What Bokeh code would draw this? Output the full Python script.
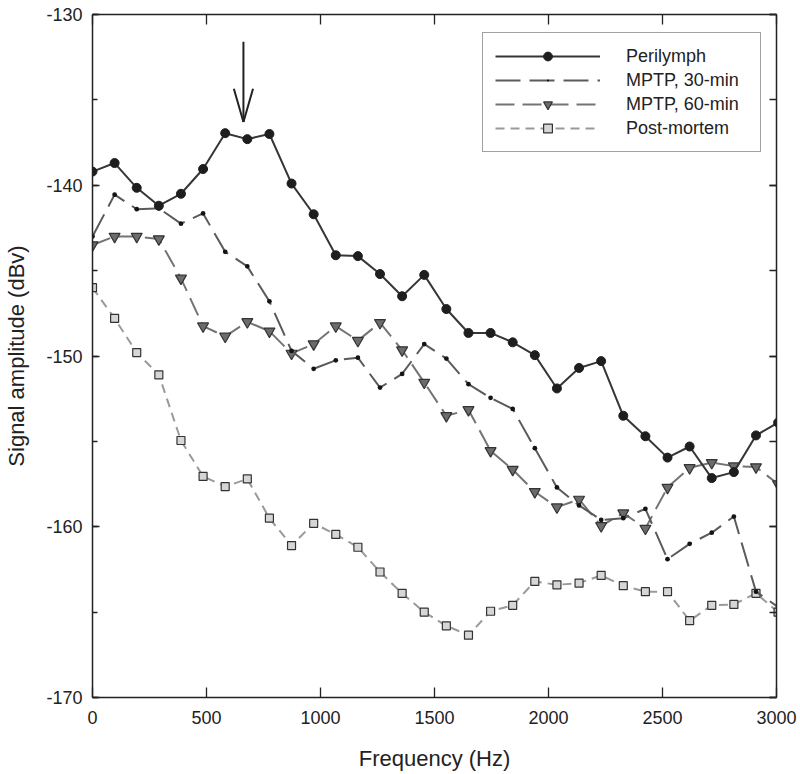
from bokeh.plotting import figure
from bokeh.models import (Range1d, SingleIntervalTicker, LinearAxis, Legend, LegendItem,
                          PrintfTickFormatter, CustomJSTickFormatter, ColumnDataSource)
from bokeh.embed import file_html
from bokeh.resources import INLINE

# ---- data -----------------------------------------------------------------
freq = [0, 97, 194, 291, 388, 485, 582, 679, 776, 873, 970, 1067, 1164, 1261, 1358,
        1455, 1552, 1649, 1746, 1843, 1940, 2037, 2134, 2231, 2328, 2425, 2522, 2619,
        2716, 2813, 2910, 3007]

perilymph = [-139.2, -138.7, -140.15, -141.2, -140.5, -139.05, -136.95, -137.3, -137.0,
             -139.9, -141.7, -144.1, -144.15, -145.2, -146.5, -145.25, -147.25, -148.65,
             -148.65, -149.2, -149.95, -151.9, -150.7, -150.3, -153.5, -154.7, -155.95,
             -155.3, -157.15, -156.8, -154.65, -153.9]

mptp30 = [-143.0, -140.55, -141.4, -141.35, -142.25, -141.65, -143.9, -144.75, -146.8,
          -149.7, -150.75, -150.25, -150.1, -151.85, -151.05, -149.3, -150.15, -151.65,
          -152.45, -153.1, -155.4, -157.7, -158.75, -159.6, -159.5, -158.95, -161.9,
          -161.0, -160.35, -159.4, -163.8, -164.7]

mptp60 = [-143.5, -143.0, -143.0, -143.15, -145.45, -148.25, -148.85, -148.0, -148.55,
          -149.85, -149.3, -148.25, -149.1, -148.05, -149.65, -151.55, -153.5, -153.15,
          -155.55, -156.65, -157.95, -158.85, -158.4, -159.95, -159.2, -160.1, -157.7,
          -156.55, -156.25, -156.45, -156.5, -157.5]

postmortem = [-146.0, -147.8, -149.8, -151.1, -154.95, -157.05, -157.65, -157.2, -159.5,
              -161.1, -159.8, -160.45, -161.2, -162.65, -163.9, -165.0, -165.8, -166.35,
              -164.95, -164.6, -163.2, -163.4, -163.3, -162.85, -163.45, -163.8, -163.8,
              -165.5, -164.6, -164.55, -163.9, -165.0]

series_names = ["Perilymph", "MPTP, 30-min", "MPTP, 60-min", "Post-mortem"]

# arrow marking the stimulus frequency
arrow_freq = 662
arrow_top = -131.6
arrow_tip = -136.3
arrow_head_dx = 42
arrow_head_dy = 1.95

FONT = "Liberation Sans"
INK = "#222222"

p = figure(frame_width=684, frame_height=683,
           x_range=Range1d(0, 3000), y_range=Range1d(-170, -130),
           output_backend="svg", toolbar_location=None,
           x_axis_location=None, y_axis_location=None,
           min_border_left=92, min_border_top=14, min_border_right=24, min_border_bottom=77)
p.grid.visible = False
p.outline_line_color = None
p.background_fill_color = "white"
p.border_fill_color = "white"


def style_axis(ax, tick_len, minor_len):
    ax.axis_line_color = INK
    ax.axis_line_width = 1.5
    ax.major_tick_line_color = INK
    ax.major_tick_line_width = 1.3
    ax.minor_tick_line_color = INK
    ax.minor_tick_line_width = 1.3
    ax.major_tick_in = tick_len
    ax.major_tick_out = 0
    ax.minor_tick_in = minor_len
    ax.minor_tick_out = 0
    ax.major_label_text_font = FONT
    ax.major_label_text_font_size = "18px"
    ax.major_label_text_color = INK
    ax.axis_label_text_font = FONT
    ax.axis_label_text_font_size = "22px"
    ax.axis_label_text_font_style = "normal"
    ax.axis_label_text_color = INK


xticker = SingleIntervalTicker(interval=500, num_minor_ticks=0)
yticker = SingleIntervalTicker(interval=10, num_minor_ticks=2)
blank = CustomJSTickFormatter(code="return ''")

xb = LinearAxis(ticker=xticker, axis_label="Frequency (Hz)",
                formatter=PrintfTickFormatter(format="%d"))
style_axis(xb, 10, 0)
xb.major_label_standoff = 13
xb.axis_label_standoff = 19
p.add_layout(xb, "below")

yl = LinearAxis(ticker=yticker, axis_label="Signal amplitude (dBv)",
                formatter=PrintfTickFormatter(format="%d"))
style_axis(yl, 7, 5)
yl.major_label_standoff = 10
yl.axis_label_standoff = 14
p.add_layout(yl, "left")

xt = LinearAxis(ticker=xticker, formatter=blank)
style_axis(xt, 10, 0)
xt.major_label_text_font_size = "0px"
xt.major_label_standoff = 0
p.add_layout(xt, "above")

yr = LinearAxis(ticker=yticker, formatter=blank)
style_axis(yr, 7, 7)
yr.major_label_text_font_size = "0px"
yr.major_label_standoff = 0
p.add_layout(yr, "right")

src = ColumnDataSource(dict(f=freq, a=perilymph, b=mptp30, c=mptp60, d=postmortem))

# Post-mortem
l4 = p.line("f", "d", source=src, line_color="#9a9a9a", line_width=2, line_dash="9 6")
m4 = p.scatter("f", "d", source=src, marker="square", size=8, fill_color="#d6d6d6",
               line_color="#333333", line_width=1.2)
# MPTP 60
l3 = p.line("f", "c", source=src, line_color="#747474", line_width=2, line_dash="19 8")
m3 = p.scatter("f", "c", source=src, marker="inverted_triangle", size=11,
               fill_color="#6c6c6c", line_color="#333333", line_width=1.2)
# MPTP 30
l2 = p.line("f", "b", source=src, line_color="#5a5a5a", line_width=2, line_dash="25 9")
m2 = p.scatter("f", "b", source=src, marker="dot", size=19, fill_color="#141414",
               line_color="#141414", line_width=1.6)
# Perilymph
l1 = p.line("f", "a", source=src, line_color="#363636", line_width=2)
m1 = p.scatter("f", "a", source=src, marker="circle", size=9, fill_color="#1e1e1e",
               line_color="#1e1e1e")

# arrow
p.segment(x0=[arrow_freq, arrow_freq - arrow_head_dx, arrow_freq + arrow_head_dx],
          y0=[arrow_top, arrow_tip + arrow_head_dy, arrow_tip + arrow_head_dy],
          x1=[arrow_freq, arrow_freq, arrow_freq],
          y1=[arrow_tip, arrow_tip, arrow_tip],
          line_color=INK, line_width=2)

legend = Legend(items=[LegendItem(label=series_names[0], renderers=[l1, m1]),
                       LegendItem(label=series_names[1], renderers=[l2, m2]),
                       LegendItem(label=series_names[2], renderers=[l3, m3]),
                       LegendItem(label=series_names[3], renderers=[l4, m4])],
                location=(390, 545))
legend.glyph_width = 105
legend.glyph_height = 22
legend.label_height = 20
legend.label_width = 122
legend.label_standoff = 26
legend.spacing = 2
legend.padding = 12
legend.margin = 0
legend.border_line_color = "#444444"
legend.border_line_width = 1.2
legend.background_fill_alpha = 1
legend.label_text_font = FONT
legend.label_text_font_size = "18px"
legend.label_text_color = INK
p.add_layout(legend, "center")

open("out.html", "w").write(file_html(p, INLINE))
